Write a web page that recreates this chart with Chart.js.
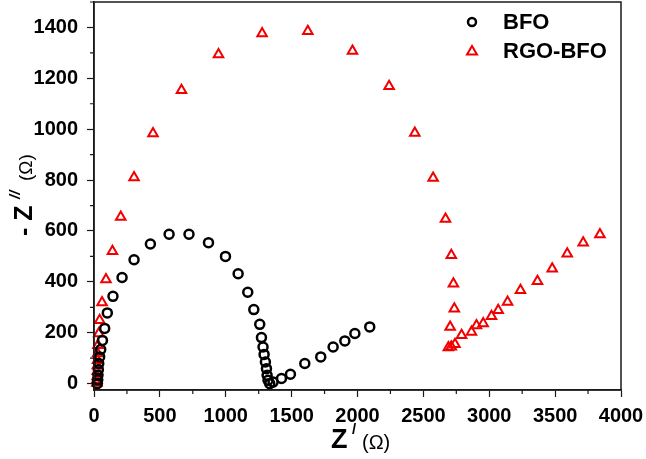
<!DOCTYPE html>
<html>
<head>
<meta charset="utf-8">
<script src="https://cdn.jsdelivr.net/npm/chart.js@4.4.1/dist/chart.umd.min.js"></script>
<style>
  html, body { margin: 0; padding: 0; background: #fff; }
  canvas { display: block; }
</style>
</head>
<body>
<canvas id="nyquist" width="646" height="459"></canvas>
<script>
// Z' (ohm) and -Z'' (ohm)
const bfoRe = [25, 28, 30, 33, 36, 43, 51, 64, 81, 101, 144, 213, 304, 428, 570, 721, 869, 998, 1094, 1167, 1213, 1258, 1271, 1283, 1291, 1301, 1309, 1314, 1321, 1334, 1359, 1423, 1491, 1600, 1721, 1815, 1904, 1980, 2093];
const bfoIm = [0, 15, 33, 55, 79, 105, 134, 170, 217, 278, 343, 417, 487, 549, 587, 587, 554, 500, 432, 359, 291, 233, 181, 144, 115, 85, 59, 33, 13, 0, 6, 20, 37, 79, 105, 144, 168, 197, 223];

const rgoRe = [22, 23, 24, 25, 26, 27, 28, 30, 36, 43, 61, 91, 140, 203, 304, 448, 664, 945, 1276, 1623, 1962, 2240, 2435, 2574, 2668, 2712, 2728, 2735, 2703, 2690, 2712, 2740, 2790, 2865, 2903, 2954, 3017, 3068, 3139, 3237, 3366, 3478, 3592, 3713, 3840];
const rgoIm = [3, 15, 28, 49, 71, 92, 118, 151, 197, 249, 319, 409, 520, 655, 810, 983, 1153, 1294, 1376, 1385, 1307, 1169, 985, 808, 647, 505, 393, 294, 223, 142, 145, 155, 190, 203, 229, 236, 265, 288, 321, 367, 402, 452, 511, 554, 586];

const seriesNames = ['BFO', 'RGO-BFO'];
const xTicks = [0, 500, 1000, 1500, 2000, 2500, 3000, 3500, 4000];
const yTicks = [0, 200, 400, 600, 800, 1000, 1200, 1400];

const RED = '#f20000';
const AXIS = '#1a1a1a';
const FONT = "'Liberation Sans', Arial, sans-serif";

const toPoints = (xs, ys) => xs.map((x, i) => ({ x, y: ys[i] }));

// minor ticks halfway between the labelled ones, a frame round the plot, the legend and axis titles
const framePlugin = {
    id: 'frame',
    afterDraw(chart) {
        const { ctx, chartArea: a, scales } = chart;
        ctx.save();
        ctx.strokeStyle = AXIS;
        ctx.lineWidth = 1.5;
        ctx.strokeRect(a.left, a.top, a.right - a.left, a.bottom - a.top);

        ctx.lineWidth = 1.2;
        ctx.beginPath();
        for (let i = 0; i < xTicks.length - 1; i++) {
            const px = scales.x.getPixelForValue((xTicks[i] + xTicks[i + 1]) / 2);
            ctx.moveTo(px, a.bottom);
            ctx.lineTo(px, a.bottom + 4);
        }
        for (let i = 0; i < yTicks.length; i++) {
            const v = yTicks[i] + 100;
            if (v > scales.y.max) break;
            const py = scales.y.getPixelForValue(v);
            ctx.moveTo(a.left, py);
            ctx.lineTo(a.left - 4, py);
        }
        ctx.stroke();

        // legend
        const lx = a.right - 149;
        ctx.lineWidth = 2.5;
        ctx.strokeStyle = '#000';
        ctx.beginPath();
        ctx.arc(lx, 22, 4, 0, Math.PI * 2);
        ctx.stroke();
        ctx.lineWidth = 2;
        ctx.strokeStyle = RED;
        ctx.beginPath();
        ctx.moveTo(lx, 46);
        ctx.lineTo(lx + 5, 54.5);
        ctx.lineTo(lx - 5, 54.5);
        ctx.closePath();
        ctx.stroke();
        ctx.fillStyle = '#000';
        ctx.font = 'bold 22px ' + FONT;
        ctx.textBaseline = 'middle';
        ctx.textAlign = 'left';
        ctx.fillText(seriesNames[0], lx + 31, 23);
        ctx.fillText(seriesNames[1], lx + 31, 52);

        // x title: Z' (ohm)
        ctx.textBaseline = 'alphabetic';
        ctx.font = 'bold 27px ' + FONT;
        ctx.fillText('Z', 331, 448);
        ctx.font = 'bold 15px ' + FONT;
        ctx.fillText('/', 352, 434);
        ctx.font = '20px ' + FONT;
        ctx.fillText('(\u03A9)', 362, 449);

        // y title: -Z'' (ohm), rotated
        ctx.translate(32, 236);
        ctx.rotate(-Math.PI / 2);
        ctx.font = 'bold 25px ' + FONT;
        ctx.fillText('- Z', 0, 0);
        ctx.font = 'bold italic 15px ' + FONT;
        ctx.fillText('//', 37, -12);
        ctx.font = '19px ' + FONT;
        ctx.fillText('(\u03A9)', 55, 0);
        ctx.restore();
    }
};

new Chart(document.getElementById('nyquist'), {
    type: 'scatter',
    data: {
        datasets: [
            {
                label: seriesNames[0],
                data: toPoints(bfoRe, bfoIm),
                pointStyle: 'circle',
                pointRadius: 4.5,
                pointBorderWidth: 2.5,
                pointBorderColor: '#000',
                pointBackgroundColor: 'rgba(0,0,0,0)',
                clip: false
            },
            {
                label: seriesNames[1],
                data: toPoints(rgoRe, rgoIm),
                pointStyle: 'triangle',
                pointRadius: 5.5,
                pointBorderWidth: 2,
                pointBorderColor: RED,
                pointBackgroundColor: 'rgba(0,0,0,0)',
                clip: false
            }
        ]
    },
    plugins: [framePlugin],
    options: {
        responsive: false,
        animation: false,
        devicePixelRatio: 1,
        layout: { autoPadding: false, padding: { top: 2, right: 25, left: 0, bottom: 0 } },
        plugins: {
            legend: { display: false },
            tooltip: { enabled: false }
        },
        scales: {
            x: {
                type: 'linear',
                min: 0,
                max: 4000,
                afterBuildTicks: (scale) => { scale.ticks = xTicks.map(v => ({ value: v })); },
                afterFit: (scale) => {
                    scale.height = 69;
                    scale.paddingLeft = 0;
                    scale.paddingRight = 0;
                },
                grid: { drawOnChartArea: false, tickLength: 7, tickColor: AXIS, tickWidth: 1.2 },
                border: { color: AXIS, width: 1.5 },
                ticks: {
                    color: '#000',
                    padding: 7,
                    maxRotation: 0,
                    autoSkip: false,
                    callback: (v) => String(v),
                    font: { family: FONT, size: 20, weight: 'bold' }
                }
            },
            y: {
                type: 'linear',
                min: -25,
                max: 1500,
                afterBuildTicks: (scale) => { scale.ticks = yTicks.map(v => ({ value: v })); },
                afterFit: (scale) => {
                    scale.width = 94;
                    scale.paddingTop = 0;
                    scale.paddingBottom = 0;
                },
                grid: { drawOnChartArea: false, tickLength: 7, tickColor: AXIS, tickWidth: 1.2 },
                border: { color: AXIS, width: 1.5 },
                ticks: {
                    color: '#000',
                    padding: 9,
                    autoSkip: false,
                    callback: (v) => String(v),
                    font: { family: FONT, size: 20, weight: 'bold' }
                }
            }
        }
    }
});
</script>
</body>
</html>
